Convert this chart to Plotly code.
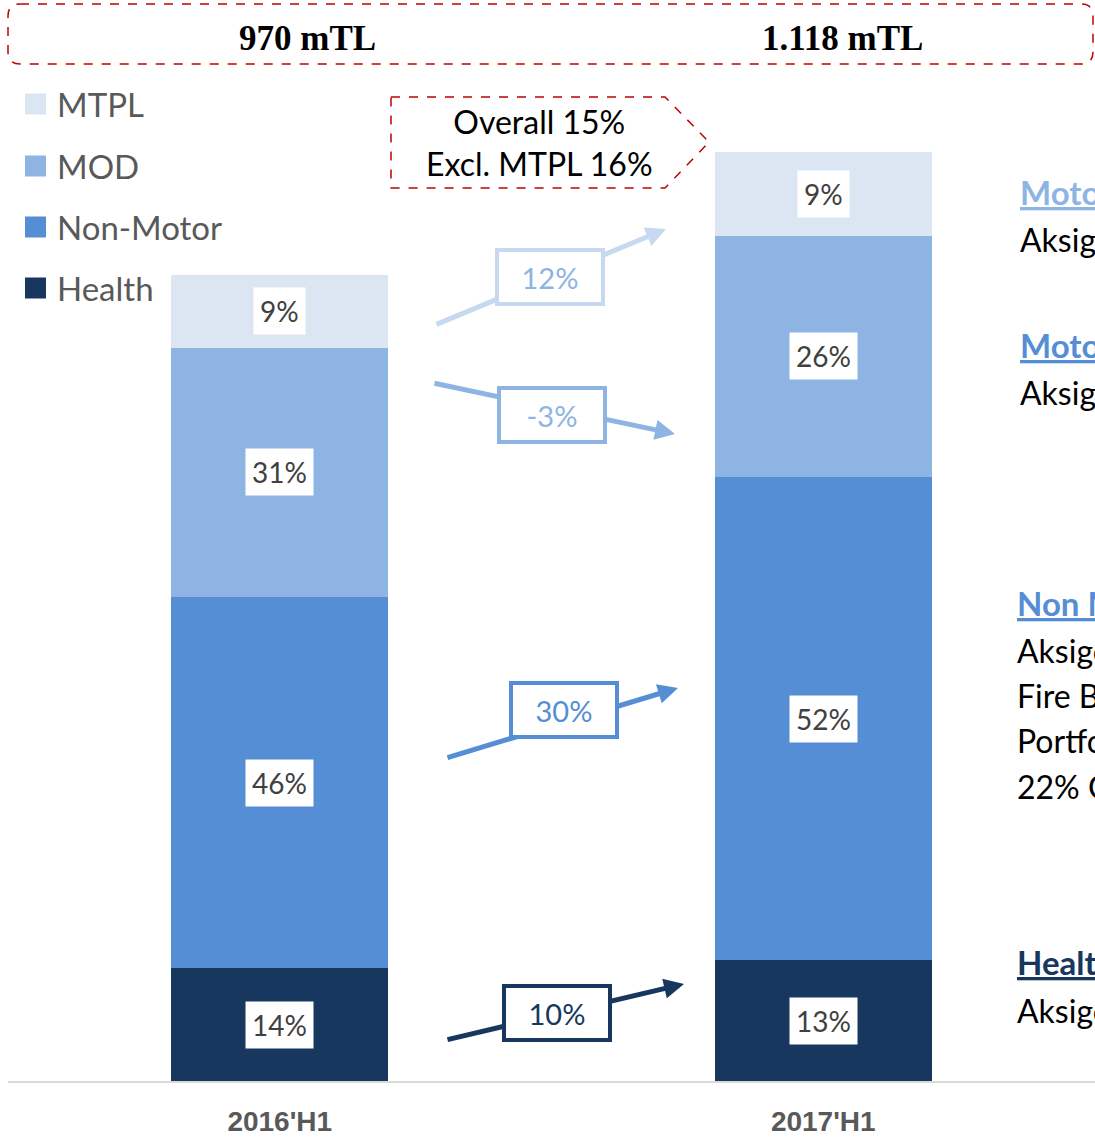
import plotly.graph_objects as go

# ---- data -------------------------------------------------------------
periods = ["2016'H1", "2017'H1"]
totals = [970, 1118]                      # gross written premium, mTL
total_labels = ["970 mTL", "1.118 mTL"]

segments = ["Health", "Non-Motor", "MOD", "MTPL"]   # stacking order, bottom to top
health_share = [14, 13]
non_motor_share = [46, 52]
mod_share = [31, 26]
mtpl_share = [9, 9]

growth_labels = ["10%", "30%", "-3%", "12%"]         # 2017'H1 vs 2016'H1, per segment

overall_growth = ["Overall 15%", "Excl. MTPL 16%"]

shares = [health_share, non_motor_share, mod_share, mtpl_share]
colors = ["#17375e", "#558ed5", "#8eb4e3", "#dce6f2"]
growth_box_colors = ["#17375e", "#558ed5", "#8eb4e3", "#c6d9f1"]
growth_text_colors = ["#17375e", "#558ed5", "#8eb4e3", "#8eb4e3"]

# ---- geometry helpers (figure pixels -> paper coords) -----------------
W, H = 1095, 1138
ML, MR, MT, MB = 8, 0, 0, 57
PW, PH = W - ML - MR, H - MT - MB


def px(x):
    return (x - ML) / PW


def py(y):
    return (PH + MT - y) / PH


SANS = "Lato, 'Open Sans', sans-serif"

fig = go.Figure()

# stacked bars, height = total * share
for name, sh, col in zip(segments, shares, colors):
    fig.add_trace(go.Bar(
        x=periods,
        y=[t * s / 100 for t, s in zip(totals, sh)],
        name=name,
        marker=dict(color=col, line=dict(width=0)),
        width=0.4,
        hoverinfo="skip",
        showlegend=False,
    ))

annotations = []
shapes = []


def note(x, y, text, **kw):
    """Paper-anchored text centred on a pixel position unless told otherwise."""
    d = dict(x=px(x), y=py(y), xref="paper", yref="paper", text=text,
             showarrow=False, xanchor="center", yanchor="middle")
    d.update(kw)
    annotations.append(d)


# percentage labels in white boxes at the middle of each segment
for i, period in enumerate(periods):
    base = 0.0
    for sh in shares:
        val = totals[i] * sh[i] / 100
        annotations.append(dict(
            x=period, y=base + val / 2, xref="x", yref="y",
            text=f"{sh[i]}%", showarrow=False,
            xanchor="center", yanchor="middle",
            font=dict(family=SANS, size=28, color="#404040"),
            bgcolor="white", borderpad=6,
        ))
        base += val

# totals header with dashed rounded frame
x0, x1, y0, y1, r = px(8), px(1093), py(4), py(64), 12
rx, ry = r / PW, r / PH
shapes.append(dict(
    type="path", xref="paper", yref="paper",
    path=(f"M {x0+rx},{y0} L {x1-rx},{y0} Q {x1},{y0} {x1},{y0-ry} "
          f"L {x1},{y1+ry} Q {x1},{y1} {x1-rx},{y1} L {x0+rx},{y1} "
          f"Q {x0},{y1} {x0},{y1+ry} L {x0},{y0-ry} Q {x0},{y0} {x0+rx},{y0} Z"),
    line=dict(color="#c00000", width=1.5, dash="dash"),
))
for lbl, cx in zip(total_labels, [307, 842]):
    note(cx, 38, lbl,
         font=dict(family="'Liberation Serif', 'Times New Roman', serif",
                   size=35, color="black", weight="bold"))

# legend (top of stack first)
legend_y = [104, 166, 227, 288]
for name, col, ly in zip(segments[::-1], colors[::-1], legend_y):
    shapes.append(dict(
        type="rect", xref="paper", yref="paper",
        x0=px(25), x1=px(46), y0=py(ly - 10.5), y1=py(ly + 10.5),
        fillcolor=col, line=dict(width=0),
    ))
    note(55, ly, name, xanchor="left",
         font=dict(family=SANS, size=33, color="#595959"))

# overall growth call-out (dashed pentagon)
shapes.append(dict(
    type="path", xref="paper", yref="paper",
    path=(f"M {px(391)},{py(97)} L {px(665)},{py(97)} L {px(709)},{py(142)} "
          f"L {px(665)},{py(188)} L {px(391)},{py(188)} Z"),
    line=dict(color="#c00000", width=1.5, dash="dash"),
))
note(539, 143, "<br>".join(overall_growth),
     font=dict(family=SANS, size=32, color="black"))

# segment growth arrows with boxed labels (tail, head, box centre in pixels)
arrow_geom = [
    ((446, 1040), (684, 984), (557, 1013)),   # Health
    ((446, 758), (678, 688), (564, 710)),     # Non-Motor
    ((433, 383), (675, 434), (552, 415)),     # MOD
    ((435, 325), (666, 229), (550, 277)),     # MTPL
]
for lbl, bc, tc, (tail, head, box) in zip(growth_labels, growth_box_colors,
                                          growth_text_colors, arrow_geom):
    annotations.append(dict(
        x=px(head[0]), y=py(head[1]), xref="paper", yref="paper",
        ax=tail[0] - head[0], ay=tail[1] - head[1],
        text="", showarrow=True, arrowhead=2, arrowsize=0.8,
        arrowwidth=5, arrowcolor=bc, standoff=0, startstandoff=0,
    ))
    note(box[0], box[1], lbl, width=102, height=50,
         bgcolor="white", bordercolor=bc, borderwidth=4, borderpad=0,
         font=dict(family=SANS, size=29, color=tc))

# commentary column on the right
side_notes = [
    (1018, 192, "<u>Motor TPL</u>", "#8eb4e3", True),
    (1018, 240, "Aksigorta", "black", False),
    (1018, 345, "<u>Motor OD</u>", "#558ed5", True),
    (1018, 392, "Aksigorta", "black", False),
    (1015, 603, "<u>Non Motor</u>", "#558ed5", True),
    (1015, 650, "Aksigorta", "black", False),
    (1015, 695, "Fire Branch", "black", False),
    (1015, 740, "Portfolio", "black", False),
    (1015, 786, "22% Growth", "black", False),
    (1015, 962, "<u>Health</u>", "#17375e", True),
    (1015, 1010, "Aksigorta", "black", False),
]
for nx, ny, txt, col, bold in side_notes:
    note(nx, ny, txt, xanchor="left",
         font=dict(family=SANS, size=33 if bold else 32, color=col,
                   weight="bold" if bold else "normal"))

fig.update_layout(
    barmode="stack",
    width=W, height=H,
    margin=dict(l=ML, r=MR, t=MT, b=MB, pad=0),
    paper_bgcolor="white", plot_bgcolor="white",
    annotations=annotations, shapes=shapes,
    xaxis=dict(
        type="category", range=[-0.5, 1.5], automargin=False,
        showline=True, linecolor="#d9d9d9", linewidth=2,
        showgrid=False, zeroline=False, ticks="",
        ticklabelstandoff=14,
        tickfont=dict(family="'Liberation Sans', Arial, sans-serif",
                      size=28, color="#595959", weight="bold"),
        fixedrange=True,
    ),
    yaxis=dict(range=[0, 1300.9], visible=False, fixedrange=True,
               automargin=False),
    showlegend=False,
)

fig.write_html("out.html")
